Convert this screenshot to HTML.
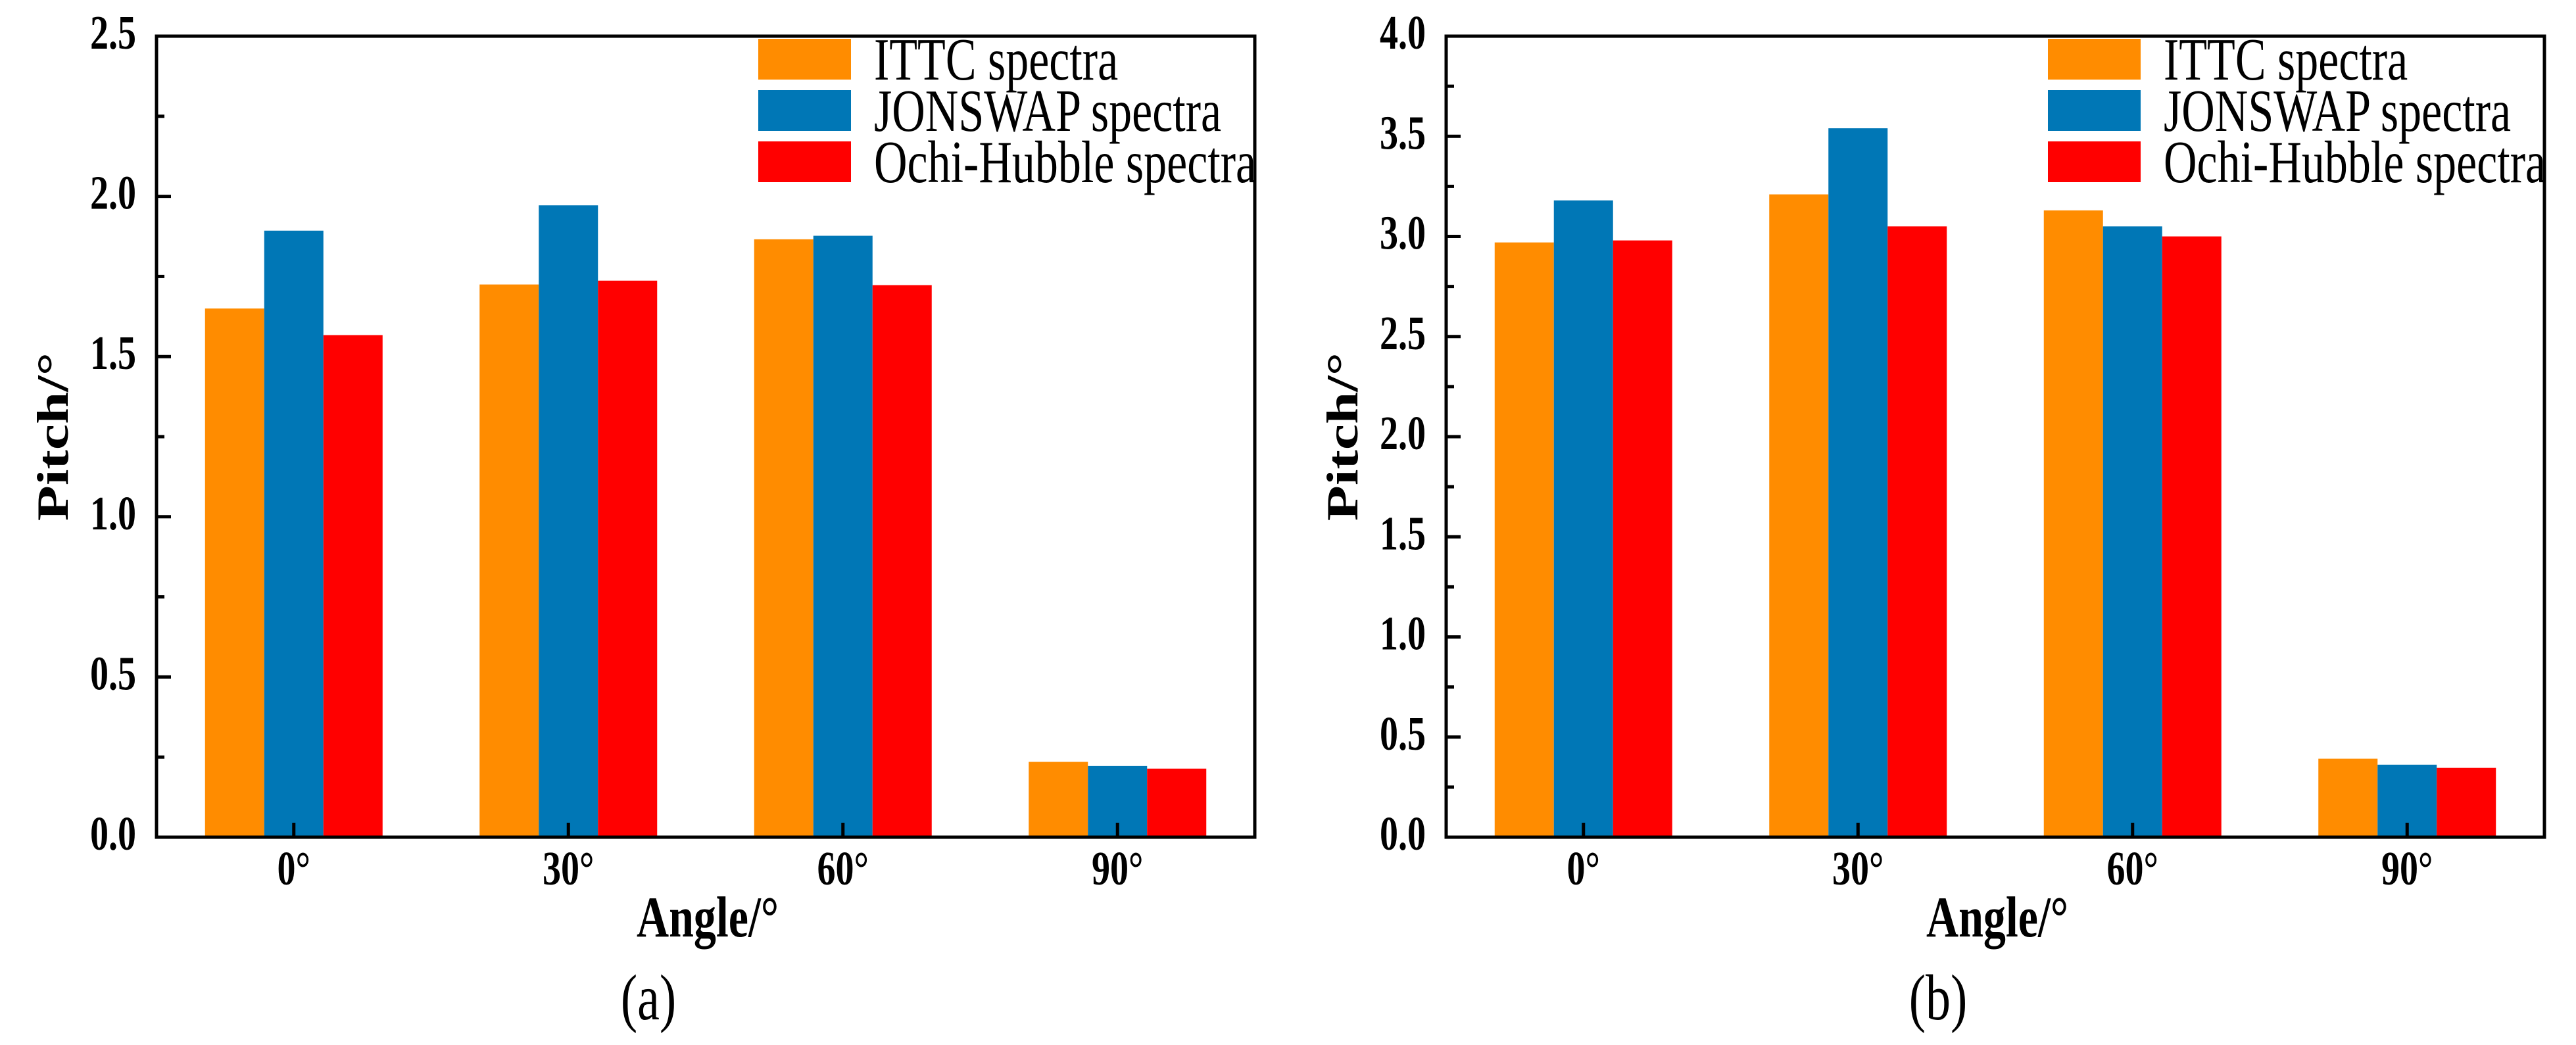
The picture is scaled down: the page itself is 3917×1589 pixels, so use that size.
<!DOCTYPE html>
<html><head><meta charset="utf-8"><style>
html,body{margin:0;padding:0;background:#fff;}
svg{display:block;font-family:"Liberation Serif",serif;}
</style></head><body>
<svg id="fig" width="3917" height="1589" viewBox="0 0 3917 1589" xmlns="http://www.w3.org/2000/svg"></svg>
<script>
const categories = ["0°","30°","60°","90°"];
const seriesNames = ["ITTC spectra","JONSWAP spectra","Ochi-Hubble spectra"];
const seriesColors = ["#FF8C00","#0077B6","#FF0000"];
const ittcA = [1.65, 1.725, 1.866, 0.235];
const jonswapA = [1.893, 1.972, 1.877, 0.222];
const ochiA = [1.567, 1.737, 1.723, 0.214];
const ittcB = [2.97, 3.21, 3.13, 0.392];
const jonswapB = [3.18, 3.54, 3.05, 0.362];
const ochiB = [2.98, 3.05, 3.00, 0.346];
const ticksA = [0.0, 0.5, 1.0, 1.5, 2.0, 2.5];
const ticksB = [0.0, 0.5, 1.0, 1.5, 2.0, 2.5, 3.0, 3.5, 4.0];

const NS = "http://www.w3.org/2000/svg";
const svg = document.getElementById('fig');
const SY = 1.3;
function mk(tag, attrs, parent){
  const e = document.createElementNS(NS, tag);
  for (const k in attrs) e.setAttribute(k, attrs[k]);
  (parent||svg).appendChild(e);
  return e;
}
function txt(parent, x, y, str, size, bold, anchor, rot){
  const t = mk('text', {x: 0, y: 0, 'font-size': size, 'text-anchor': anchor || 'start',
    'font-weight': bold ? 'bold' : 'normal',
    transform: 'translate(' + x + ',' + y + ') scale(1,' + SY + ')' + (rot ? ' rotate(-90)' : '')}, parent);
  t.textContent = str;
  return t;
}

function panel(off, ymax, ticks, series, letter){
  const L = 238 + off, R = 1908 + off, T = 55, B = 1273;
  const g = mk('g', {});
  
  
  const ys = v => B - v / ymax * (B - T);
  const band = (R - L) / categories.length;
  const xc = i => L + band * (i + 0.5);
  const bw = 90;
  series.forEach((vals, s) => {
    vals.forEach((v, i) => {
      const r = mk('rect', {x: xc(i) - 1.5*bw + s*bw, y: ys(v), width: bw, height: B - ys(v), fill: seriesColors[s]}, g);
      
      
    });
  });
  const box = mk('rect', {x: L, y: T, width: R - L, height: B - T, fill: 'none', stroke: '#000', 'stroke-width': 5}, g);
  
  
  ticks.forEach((t, k) => {
    const y = ys(t);
    mk('line', {x1: L, x2: L + 22, y1: y, y2: y, stroke: '#000', 'stroke-width': 5}, g);
    const lb = txt(g, L - 31, y + 19, t.toFixed(1), 56, true, 'end');
    
    
    if (k < ticks.length - 1) {
      const ym = ys(t + (ticks[1] - ticks[0]) / 2);
      mk('line', {x1: L, x2: L + 12, y1: ym, y2: ym, stroke: '#000', 'stroke-width': 5}, g);
    }
  });
  categories.forEach((c, i) => {
    mk('line', {x1: xc(i), x2: xc(i), y1: B, y2: B - 22, stroke: '#000', 'stroke-width': 5}, g);
    const lb = txt(g, xc(i), 1345, c, 56, true, 'middle');
    
    
  });
  const xt = txt(g, 1076 + off, 1424, 'Angle/°', 68, true, 'middle');
  
  
  const yt = txt(g, 103 + off, 664, 'Pitch/°', 68, true, 'middle', true);
  
  
  const legY = [59, 137, 215];
  seriesNames.forEach((n, s) => {
    const sw = mk('rect', {x: 1153 + off, y: legY[s], width: 141, height: 62, fill: seriesColors[s]}, g);
    
    
    const tx = txt(g, 1329 + off, legY[s] + 62, n, 70, false, 'start');
    
    
  });
  const cap = txt(g, 986 + off, 1550, '(' + letter + ')', 76, false, 'middle');
  
  
}

panel(0, 2.5, ticksA, [ittcA, jonswapA, ochiA], 'a');
panel(1961, 4.0, ticksB, [ittcB, jonswapB, ochiB], 'b');
</script>
</body></html>
